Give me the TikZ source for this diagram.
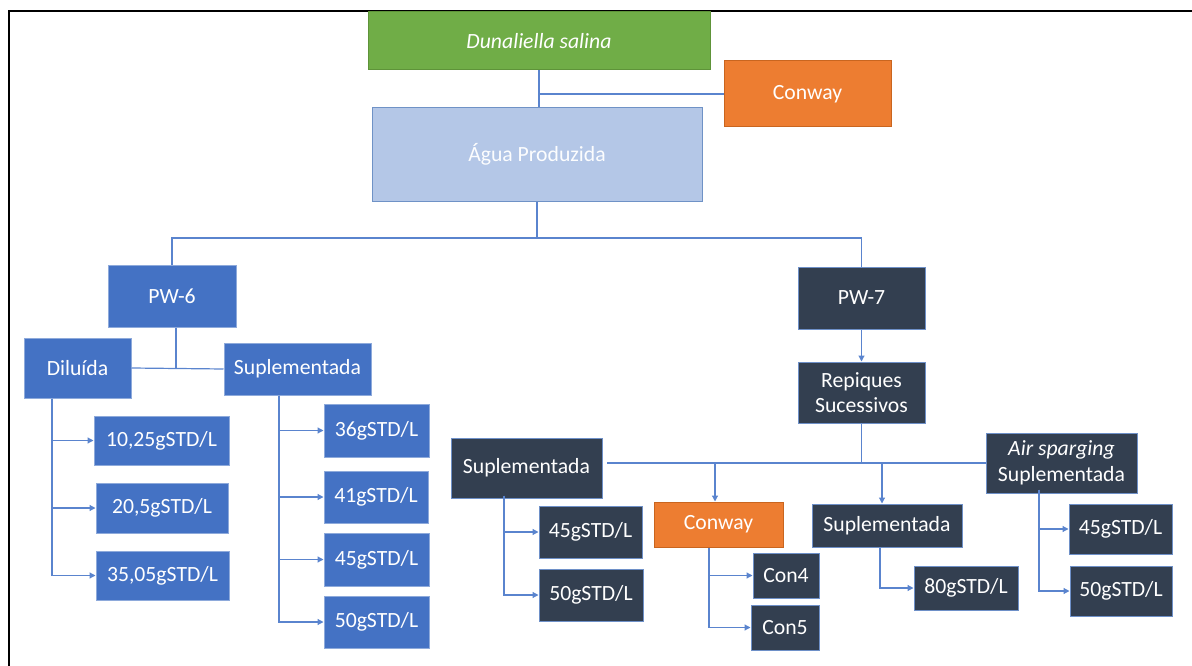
\documentclass[tikz,border=0pt]{standalone}
\usepackage{fontspec}
\setmainfont{Carlito}
\usetikzlibrary{arrows.meta}
\definecolor{cgreen}{HTML}{70AD47}
\definecolor{cgreenb}{HTML}{5E9339}
\definecolor{corange}{HTML}{ED7D31}
\definecolor{coranb}{HTML}{C9651F}
\definecolor{clight}{HTML}{B4C7E7}
\definecolor{clightb}{HTML}{6F92C6}
\definecolor{cblue}{HTML}{4472C4}
\definecolor{cblueb}{HTML}{8EAADB}
\definecolor{cdark}{HTML}{333F50}
\definecolor{cdarkb}{HTML}{6E90C8}
\definecolor{cline}{HTML}{5A84CE}
\tikzset{
  box/.style={rectangle, line width=1pt, text=white, inner sep=0pt, align=center,
    font=\fontsize{21.7}{25.5}\selectfont},
  greenbox/.style={box, fill=cgreen, draw=cgreenb},
  orangebox/.style={box, fill=corange, draw=coranb},
  lightbox/.style={box, fill=clight, draw=clightb, text=white!96!clight},
  bluebox/.style={box, fill=cblue, draw=cblueb},
  darkbox/.style={box, fill=cdark, draw=cdarkb},
  conn/.style={draw=cline, line width=1.2pt},
  arr/.style={conn, -{Triangle[length=6pt,width=6pt]}},
}
\begin{document}
\begin{tikzpicture}[x=1pt,y=-1pt]
\useasboundingbox (0,0) rectangle (1192,666);
% frame
\draw[black, line width=2.5pt] (9,666) -- (9,11) -- (1192,11);

% top
\node[greenbox, minimum width=342pt, minimum height=58pt] (dun) at (539,41) {\itshape Dunaliella salina};
\node[orangebox, minimum width=167pt, minimum height=66pt] (con1) at (807.5,94) {Conway};
\node[lightbox, minimum width=330pt, minimum height=93pt] (agua) at (537,154.5) {Água Produzida};

% level 2
\node[bluebox, minimum width=128pt, minimum height=62pt] (pw6) at (172,296) {PW-6};
\node[darkbox, minimum width=127pt, minimum height=62pt] (pw7) at (861.5,298) {PW-7};

% PW-6 branch
\node[bluebox, minimum width=107pt, minimum height=60pt] (dil) at (77.5,368) {Diluída};
\node[bluebox, minimum width=147pt, minimum height=52pt] (supL) at (297.5,369) {Suplementada};
\node[bluebox, minimum width=135pt, minimum height=49pt] (d1) at (161.5,440.5) {10,25gSTD/L};
\node[bluebox, minimum width=132pt, minimum height=50pt] (d2) at (162,508) {20,5gSTD/L};
\node[bluebox, minimum width=133pt, minimum height=49pt] (d3) at (162.5,575.5) {35,05gSTD/L};
\node[bluebox, minimum width=105pt, minimum height=53pt] (s1) at (376.5,430.5) {36gSTD/L};
\node[bluebox, minimum width=104pt, minimum height=52pt] (s2) at (376,497) {41gSTD/L};
\node[bluebox, minimum width=105pt, minimum height=53pt] (s3) at (376.5,559.5) {45gSTD/L};
\node[bluebox, minimum width=105pt, minimum height=52pt] (s4) at (376.5,622) {50gSTD/L};

% PW-7 branch
\node[darkbox, minimum width=127pt, minimum height=61pt] (rep) at (861.5,392.5) {Repiques\\Sucessivos};
\node[darkbox, minimum width=151pt, minimum height=60pt] (supM) at (526.5,468) {Suplementada};
\node[orangebox, minimum width=129pt, minimum height=45pt] (conM) at (718.5,524.5) {Conway};
\node[darkbox, minimum width=150pt, minimum height=43pt] (supR) at (887,525.5) {Suplementada};
\node[darkbox, minimum width=151pt, minimum height=60pt] (air) at (1061.5,463) {\itshape Air sparging\\Suplementada};
\node[darkbox, minimum width=103pt, minimum height=52pt] (m1) at (590.5,532) {45gSTD/L};
\node[darkbox, minimum width=104pt, minimum height=52pt] (m2) at (591,595) {50gSTD/L};
\node[darkbox, minimum width=66pt, minimum height=45pt] (c4) at (786,575.5) {Con4};
\node[darkbox, minimum width=68pt, minimum height=45pt] (c5) at (785,627.5) {Con5};
\node[darkbox, minimum width=104pt, minimum height=44pt] (r1) at (966,588) {80gSTD/L};
\node[darkbox, minimum width=103pt, minimum height=50pt] (a1) at (1120.5,529) {45gSTD/L};
\node[darkbox, minimum width=102pt, minimum height=50pt] (a2) at (1121,591) {50gSTD/L};

% helper coordinates
\coordinate (hb) at (0,238);
\coordinate (xd) at (52,0);
\coordinate (xs) at (279,0);
\coordinate (xm) at (504,0);
\coordinate (xc) at (709,0);
\coordinate (xr) at (880,0);
\coordinate (xa) at (1039,0);
\coordinate (xcm) at (715,0);
\coordinate (xsr) at (882,0);
\coordinate (busl) at (607,0);

% connectors top
\draw[conn] (dun.south) -- (dun.south |- agua.north);
\draw[conn] (dun.south |- con1.west) -- (con1.west);
\draw[conn] (agua.south) -- (agua.south |- hb);
\draw[conn] (pw6.north) -- (pw6.north |- hb) -| (pw7.north);

% PW-6
\draw[conn] ([xshift=4pt]pw6.south) -- ([xshift=4pt]pw6.south |- dil.east);
\draw[conn] (dil.east) -- (supL.west);
\draw[arr] (dil.south -| xd) |- (d1.west);
\draw[arr] (dil.south -| xd) |- (d2.west);
\draw[arr] (dil.south -| xd) |- (d3.west);
\draw[arr] (supL.south -| xs) |- (s1.west);
\draw[arr] (supL.south -| xs) |- (s2.west);
\draw[arr] (supL.south -| xs) |- (s3.west);
\draw[arr] (supL.south -| xs) |- (s4.west);

% PW-7
\draw[arr] (pw7.south) -- (rep.north);
\draw[conn] (rep.south) -- (rep.south |- air.west);
\draw[conn] (air.west) -- (air.west -| busl);
\draw[arr] (air.west -| xcm) -- (conM.north -| xcm);
\draw[arr] (air.west -| xsr) -- (supR.north -| xsr);
\draw[arr] ([yshift=3pt]supM.south -| xm) |- (m1.west);
\draw[arr] ([yshift=3pt]supM.south -| xm) |- (m2.west);
\draw[arr] (conM.south -| xc) |- (c4.west);
\draw[arr] (conM.south -| xc) |- (c5.west);
\draw[arr] (supR.south -| xr) |- (r1.west);
\draw[arr] ([yshift=4pt]air.south -| xa) |- (a1.west);
\draw[arr] ([yshift=4pt]air.south -| xa) |- (a2.west);
\end{tikzpicture}
\end{document}
